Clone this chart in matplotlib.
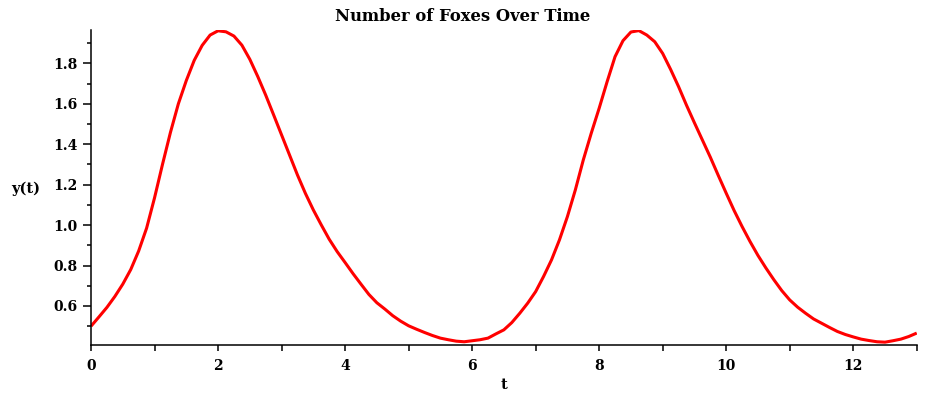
import matplotlib
matplotlib.use('Agg')
import matplotlib.pyplot as plt
from matplotlib.ticker import MultipleLocator

# values (t, y(t))
t = [0.0, 0.125, 0.25, 0.375, 0.5, 0.625, 0.75, 0.875, 1.0, 1.125, 1.25, 1.375, 1.5, 1.625,
     1.75, 1.875, 2.0, 2.125, 2.25, 2.375, 2.5, 2.625, 2.75, 2.875, 3.0, 3.125, 3.25, 3.375,
     3.5, 3.625, 3.75, 3.875, 4.0, 4.125, 4.25, 4.375, 4.5, 4.625, 4.75, 4.875, 5.0, 5.125,
     5.25, 5.375, 5.5, 5.625, 5.75, 5.875, 6.0, 6.125, 6.25, 6.375, 6.5, 6.625, 6.75, 6.875,
     7.0, 7.125, 7.25, 7.375, 7.5, 7.625, 7.75, 7.875, 8.0, 8.125, 8.25, 8.375, 8.5, 8.625,
     8.75, 8.875, 9.0, 9.125, 9.25, 9.375, 9.5, 9.625, 9.75, 9.875, 10.0, 10.125, 10.25,
     10.375, 10.5, 10.625, 10.75, 10.875, 11.0, 11.125, 11.25, 11.375, 11.5, 11.625, 11.75,
     11.875, 12.0, 12.125, 12.25, 12.375, 12.5, 12.625, 12.75, 12.875, 13.0]
y = [0.500, 0.546, 0.593, 0.647, 0.708, 0.780, 0.872, 0.985, 1.135, 1.300, 1.458, 1.600, 1.715, 1.815,
     1.889, 1.940, 1.961, 1.956, 1.935, 1.890, 1.820, 1.735, 1.643, 1.545, 1.446, 1.347, 1.248, 1.157,
     1.075, 1.001, 0.930, 0.869, 0.815, 0.760, 0.708, 0.657, 0.616, 0.585, 0.552, 0.525, 0.502, 0.485,
     0.469, 0.454, 0.441, 0.433, 0.426, 0.423, 0.428, 0.433, 0.441, 0.462, 0.482, 0.518, 0.564, 0.614,
     0.671, 0.746, 0.828, 0.927, 1.042, 1.174, 1.322, 1.454, 1.578, 1.709, 1.833, 1.912, 1.955, 1.962,
     1.940, 1.907, 1.849, 1.770, 1.685, 1.593, 1.506, 1.421, 1.336, 1.246, 1.158, 1.072, 0.993,
     0.919, 0.850, 0.788, 0.730, 0.676, 0.630, 0.594, 0.564, 0.536, 0.515, 0.494, 0.474,
     0.459, 0.447, 0.436, 0.429, 0.423, 0.421, 0.428, 0.436, 0.449, 0.466]

title = 'Number of Foxes Over Time'
xlabel = 't'
ylabel = 'y(t)'
yticks = [0.6, 0.8, 1.0, 1.2, 1.4, 1.6, 1.8]

plt.rcParams['font.family'] = ['DejaVu Serif']
plt.rcParams['font.weight'] = 'bold'

fig = plt.figure(figsize=(9.26, 4.0), dpi=100)
ax = fig.add_axes([0.0983, 0.1375, 0.8917, 0.7865])
ax.plot(t, y, color='#ff0000', lw=2.2, solid_joinstyle='round', solid_capstyle='butt')

ax.set_xlim(0, 13)
ax.set_ylim(0.407, 1.963)
ax.xaxis.set_major_locator(MultipleLocator(2))
ax.xaxis.set_minor_locator(MultipleLocator(1))
ax.set_yticks(yticks)
ax.set_yticklabels(['%.1f' % v for v in yticks])
ax.yaxis.set_minor_locator(MultipleLocator(0.1))

for s in ['top', 'right']:
    ax.spines[s].set_visible(False)
for s in ['left', 'bottom']:
    ax.spines[s].set_linewidth(1.1)
ax.tick_params(which='both', direction='out', width=1.1, labelsize=10)
ax.tick_params(axis='x', which='both', length=4, pad=6)
ax.tick_params(axis='y', which='major', length=5.5, pad=4)
ax.tick_params(axis='y', which='minor', length=3)

# title is centred on the whole figure, not on the axes
fig.text(0.5, 0.958, title, fontsize=11.8, fontweight='bold', ha='center', va='center')
ax.set_xlabel(xlabel, fontsize=10.5, fontweight='bold', labelpad=4)
ax.set_ylabel(ylabel, fontsize=10.5, fontweight='bold', rotation=0, va='center', ha='left')
ax.yaxis.set_label_coords(-0.097, 0.496)

fig.savefig('out.png', dpi=100)
